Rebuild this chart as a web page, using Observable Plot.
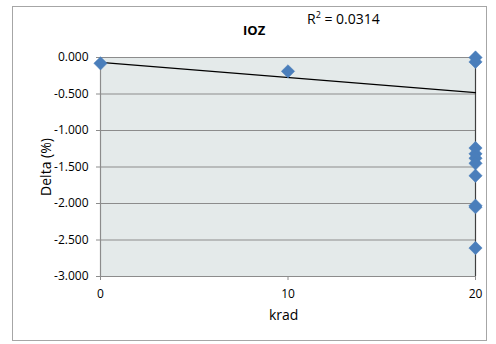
<!DOCTYPE html>
<html><head><meta charset="utf-8">
<script src="https://cdn.jsdelivr.net/npm/d3@7"></script>
<script src="https://cdn.jsdelivr.net/npm/@observablehq/plot@0.6"></script>
<style>
body{margin:0;background:#fff;font-family:"Open Sans",sans-serif;}
#wrap{position:relative;width:496px;height:344px;overflow:hidden;}
#box{position:absolute;left:12px;top:6px;width:475px;height:335px;border:1px solid #a6a6a6;box-sizing:border-box;}
.t{position:absolute;white-space:nowrap;color:#000;}
</style></head><body>
<div id="wrap">
<div id="box"></div>
<div id="chart" style="position:absolute;left:0;top:0;"></div>
<div class="t" style="left:243px;top:21px;font-size:13px;font-weight:bold;">IOZ</div>
<div class="t" style="left:307px;top:9px;font-size:14px;">R<sup style="font-size:9px;vertical-align:6px;line-height:0">2</sup> = 0.0314</div>
<div class="t" style="left:269px;top:305px;font-size:14px;">krad</div>
<div class="t" style="left:45px;top:167px;font-size:14px;transform:translate(-50%,-50%) rotate(-90deg);">Delta (%)</div>
</div>
<script>
const kradX = [0, 10, 20, 20, 20, 20, 20, 20, 20, 20, 20, 20];
const deltaY = [-0.08, -0.19, 0.00, -0.06, -1.24, -1.32, -1.38, -1.45, -1.62, -2.03, -2.05, -2.61];
const trendX = [0, 20];
const trendY = [-0.068, -0.48];
const yTicks = [0, -0.5, -1, -1.5, -2, -2.5, -3];
const xTicks = [0, 10, 20];

const pts = kradX.map((x, i) => ({x, y: deltaY[i]}));
const trend = trendX.map((x, i) => ({x, y: trendY[i]}));

const plot = Plot.plot({
  width: 496, height: 344,
  marginLeft: 100, marginRight: 21, marginTop: 57, marginBottom: 68,
  style: {fontFamily: "Open Sans, sans-serif", fontSize: "12px", color: "#000", background: "transparent"},
  x: {domain: [0, 20]},
  y: {domain: [-3, 0]},
  marks: [
    Plot.frame({fill: "#e4eaea", stroke: null}),
    Plot.gridY(yTicks, {stroke: "#8c8c8c", strokeOpacity: 1, strokeWidth: 1.2}),
    Plot.ruleX([0], {stroke: "#8c8c8c", strokeWidth: 1.2}),
    Plot.ruleX([20], {stroke: "#404040", strokeWidth: 1.2}),
    Plot.axisY({ticks: yTicks, tickFormat: d => d.toFixed(3), tickSize: 4, tickPadding: 8, stroke: "#8c8c8c", label: null}),
    Plot.axisX({ticks: xTicks, tickFormat: d => String(d), tickSize: 4, tickPadding: 9, stroke: "#8c8c8c", label: null}),
    Plot.line(trend, {x: "x", y: "y", stroke: "#000", strokeWidth: 1.2}),
    Plot.dot(pts, {x: "x", y: "y", symbol: "diamond2", r: 6, fill: "#4a7ebb", stroke: "#4a7ebb", strokeWidth: 0.5})
  ]
});
document.getElementById("chart").appendChild(plot);
</script>
</body></html>
